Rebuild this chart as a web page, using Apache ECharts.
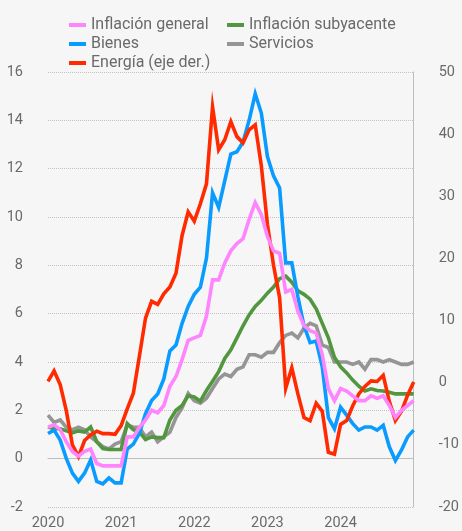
<!DOCTYPE html>
<html>
<head>
<meta charset="utf-8">
<script src="https://cdn.jsdelivr.net/npm/echarts@6/dist/echarts.min.js"></script>
<style>
  html, body { margin: 0; padding: 0; background: #f6f6f6; }
  #chart { width: 462px; height: 531px; }
</style>
</head>
<body>
<div id="chart"></div>
<script>
// Monthly observations, Dec 2019 ... Dec 2024 (61 points)
const startYear = 2019, startMonth = 12, nPoints = 61;
const yearTicks = ['2020', '2021', '2022', '2023', '2024'];

const inflacionGeneral = [1.3,
  1.4, 1.2, 0.7, 0.3, 0.1, 0.3, 0.4, -0.2, -0.3, -0.3, -0.3, -0.3,
  0.9, 0.9, 1.3, 1.6, 2.0, 1.9, 2.2, 3.0, 3.4, 4.1, 4.9, 5.0,
  5.1, 5.9, 7.4, 7.4, 8.1, 8.6, 8.9, 9.1, 9.9, 10.6, 10.1, 9.2,
  8.6, 8.5, 6.9, 7.0, 6.1, 5.5, 5.3, 5.2, 4.3, 2.9, 2.4, 2.9,
  2.8, 2.6, 2.4, 2.4, 2.6, 2.5, 2.6, 2.2, 1.7, 2.0, 2.2, 2.4];

const inflacionSubyacente = [1.31,
  1.24, 1.24, 1.15, 1.07, 1.15, 1.1, 1.31, 0.7, 0.42, 0.38, 0.38, 0.38,
  1.45, 1.2, 1.1, 0.79, 0.9, 0.87, 0.87, 1.6, 2.0, 2.2, 2.6, 2.55,
  2.38, 2.82, 3.2, 3.6, 4.15, 4.5, 5.0, 5.5, 5.95, 6.3, 6.55, 6.85,
  7.1, 7.45, 7.55, 7.3, 6.95, 6.8, 6.6, 6.2, 5.6, 5.0, 4.2, 3.8,
  3.55, 3.25, 3.0, 2.8, 2.89, 2.82, 2.8, 2.75, 2.68, 2.68, 2.68, 2.68];

const bienes = [1.04,
  1.18, 0.77, 0.01, -0.6, -0.94, -0.6, -0.05, -0.94, -1.04, -0.8, -1.0, -1.0,
  0.4, 0.6, 1.05, 1.86, 2.41, 2.68, 3.3, 4.46, 4.7, 5.6, 6.3, 6.8,
  7.1, 8.3, 11.0, 10.4, 11.5, 12.6, 12.7, 13.1, 14.0, 15.1, 14.3, 12.5,
  11.7, 11.2, 8.1, 8.1, 6.7, 5.5, 4.8, 4.87, 3.8, 1.7, 1.24, 2.13,
  1.8, 1.45, 1.18, 1.31, 1.31, 1.18, 1.38, 0.49, -0.08, 0.36, 0.9, 1.18];

const servicios = [1.8,
  1.5, 1.6, 1.3, 1.2, 1.3, 1.2, 0.9, 0.7, 0.5, 0.4, 0.6, 0.7,
  1.4, 1.3, 1.3, 0.9, 1.1, 0.7, 0.9, 1.1, 1.7, 2.1, 2.7, 2.4,
  2.3, 2.5, 2.9, 3.3, 3.5, 3.4, 3.7, 3.8, 4.3, 4.3, 4.2, 4.4,
  4.4, 4.8, 5.1, 5.2, 5.0, 5.4, 5.6, 5.5, 4.7, 4.6, 4.0, 4.0,
  4.0, 3.9, 4.0, 3.7, 4.1, 4.1, 4.0, 4.1, 4.0, 3.9, 3.9, 4.0];

const energia = [0.2,
  1.9, -0.3, -4.5, -10.0, -11.9, -9.3, -8.4, -7.8, -8.2, -8.2, -8.3, -6.9,
  -4.2, -1.7, 4.3, 10.4, 13.1, 12.6, 14.3, 15.4, 17.6, 23.7, 27.5, 26.0,
  28.8, 32.0, 44.4, 37.5, 39.1, 42.0, 39.6, 38.6, 40.7, 41.5, 34.9, 25.5,
  18.9, 13.7, -0.9, 2.4, -1.8, -5.6, -6.1, -3.3, -4.6, -11.2, -11.5, -6.7,
  -6.1, -3.7, -1.8, -0.6, 0.3, 0.2, 1.2, -3.0, -6.1, -4.6, -2.0, 0.1];

const months = [];
for (let i = 0; i < nPoints; i++) {
  const m0 = (startMonth - 1 + i);
  const y = startYear + Math.floor(m0 / 12);
  const m = (m0 % 12) + 1;
  months.push(y + '-' + String(m).padStart(2, '0'));
}

const font = 'Roboto, "Noto Sans", sans-serif';
const txt = '#6a6a6a';

const chart = echarts.init(document.getElementById('chart'), null, { renderer: 'canvas' });

const legendCommon = {
  orient: 'vertical',
  top: 12,
  icon: 'rect',
  itemWidth: 17,
  itemHeight: 4,
  itemGap: 3,
  textStyle: { fontFamily: font, fontSize: 16, color: txt, lineHeight: 16 }
};

function mkLine(name, data, color, yIndex, z) {
  return {
    name: name, type: 'line', data: data, yAxisIndex: yIndex,
    showSymbol: false, symbol: 'none', z: z,
    lineStyle: { color: color, width: 3.6, join: 'miter' },
    itemStyle: { color: color },
    emphasis: { disabled: true }
  };
}

chart.setOption({
  backgroundColor: '#f6f6f6',
  animation: false,
  textStyle: { fontFamily: font },
  legend: [
    Object.assign({}, legendCommon, { left: 64, data: ['Inflación general', 'Bienes', 'Energía (eje der.)'] }),
    Object.assign({}, legendCommon, { left: 222, data: ['Inflación subyacente', 'Servicios'] })
  ],
  grid: { left: 48, right: 47, top: 72, bottom: 19, containLabel: false },
  xAxis: {
    type: 'category',
    data: months,
    boundaryGap: false,
    axisLine: { show: true, lineStyle: { color: '#bdbdbd', width: 1 } },
    axisTick: { show: false },
    splitLine: { show: false },
    axisLabel: {
      interval: function (idx) { return idx % 12 === 0 && idx / 12 < yearTicks.length; },
      formatter: function (v, idx) { return yearTicks[Math.floor(idx / 12)] || ''; },
      color: txt, fontSize: 14.5, fontFamily: font, margin: 9
    }
  },
  yAxis: [
    {
      type: 'value', min: -2, max: 16, interval: 2, position: 'left',
      axisLine: { show: false }, axisTick: { show: false },
      axisLabel: { color: txt, fontSize: 14.5, fontFamily: font, margin: 25 },
      splitLine: { show: true, lineStyle: { type: 'dotted', color: '#c2c2c2', width: 1 } }
    },
    {
      type: 'value', min: -20, max: 50, interval: 10, position: 'right',
      axisLine: { show: true, lineStyle: { color: '#bdbdbd', width: 1 } },
      axisTick: { show: false },
      axisLabel: { color: txt, fontSize: 14.5, fontFamily: font, margin: 25 },
      splitLine: { show: false }
    }
  ],
  series: [
    mkLine('Servicios', servicios, '#959595', 0, 2),
    mkLine('Inflación subyacente', inflacionSubyacente, '#52973f', 0, 3),
    mkLine('Bienes', bienes, '#0a9bff', 0, 4),
    mkLine('Energía (eje der.)', energia, '#ff2a00', 1, 5),
    mkLine('Inflación general', inflacionGeneral, '#ff85ff', 0, 6)
  ]
});
</script>
</body>
</html>
